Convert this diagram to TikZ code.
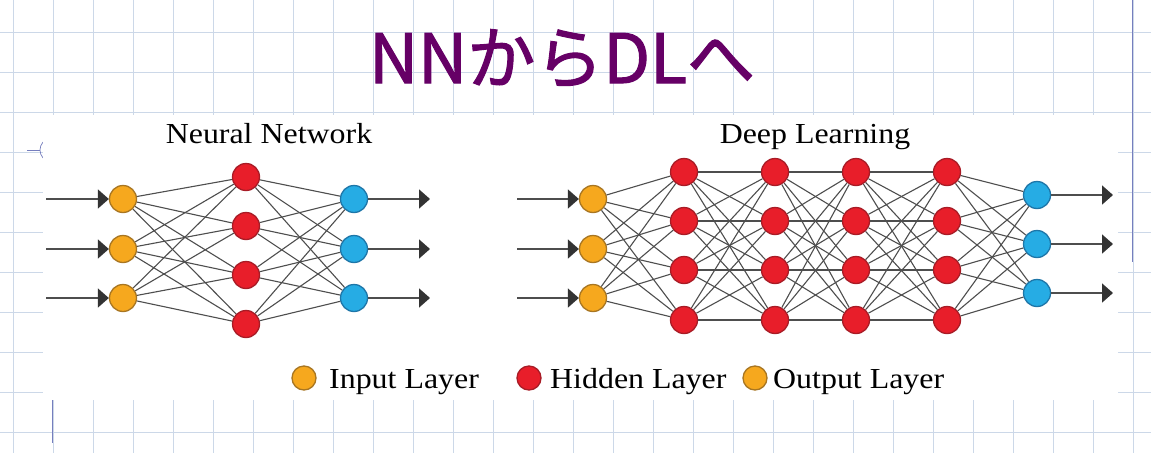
\documentclass[tikz,border=0pt]{standalone}
\usepackage{fontspec}
\setmainfont{Liberation Serif}
\newfontfamily\jpfont[FakeBold=1.6]{Noto Sans CJK JP}
\usetikzlibrary{arrows.meta}

\definecolor{gridblue}{RGB}{204,216,232}
\definecolor{markblue}{RGB}{118,126,190}
\definecolor{titlepurple}{RGB}{102,0,102}
\definecolor{inorange}{RGB}{246,168,30}
\definecolor{inorangeedge}{RGB}{168,118,34}
\definecolor{hidred}{RGB}{232,30,42}
\definecolor{hidrededge}{RGB}{168,28,38}
\definecolor{outblue}{RGB}{38,172,228}
\definecolor{outblueedge}{RGB}{30,118,168}
\definecolor{linkgray}{RGB}{78,78,78}

\tikzset{
  neuron/.style={circle, inner sep=0pt, minimum size=27pt, line width=1.3pt},
  inunit/.style={neuron, fill=inorange, draw=inorangeedge},
  hidunit/.style={neuron, fill=hidred, draw=hidrededge},
  outunit/.style={neuron, fill=outblue, draw=outblueedge},
  link/.style={draw=linkgray, line width=1.1pt},
  feed/.style={draw=linkgray, line width=1.7pt,
    -{Triangle[length=11pt,width=19pt,color=black!80]}},
  headtext/.style={font=\fontsize{29}{34}\selectfont, inner sep=0pt},
}

\begin{document}
\begin{tikzpicture}[x=1pt, y=-1pt]
  \useasboundingbox (0,0) rectangle (1151,453);
  \fill[white] (0,0) rectangle (1151,453);

  % squared paper
  \foreach \gx in {13,53,...,1133}
    \draw[gridblue, line width=0.9pt] (\gx,0) -- (\gx,453);
  \foreach \gy in {32,72,...,432}
    \draw[gridblue, line width=0.9pt] (0,\gy) -- (1151,\gy);
  \draw[markblue, line width=1pt] (1132,0) -- (1132,262);
  \draw[markblue, line width=1pt] (52,400) -- (52,443);
  \draw[markblue, line width=0.7pt] (27,150) -- (40,150);
  \draw[markblue, line width=0.7pt] (43,142) .. controls (39,147) and (39,153) .. (43,158);

  % pasted figure
  \fill[white] (43,115) rectangle (1118,400);

  \node[text=titlepurple, font=\jpfont\fontsize{68}{80}\selectfont, anchor=base] (title) at (562,83) {NNからDLへ};

  % neural network
  \node[headtext, anchor=base] (nntitle) at (269,143) {\scalebox{1.1}[1]{Neural Network}};
  \foreach \i/\y in {1/199,2/249,3/298}
    \node[inunit] (ni\i) at (123,\y) {};
  \foreach \i/\y in {1/177,2/226,3/275,4/324}
    \node[hidunit] (nh\i) at (246,\y) {};
  \foreach \i/\y in {1/199,2/249,3/298}
    \node[outunit] (no\i) at (354,\y) {};
  \foreach \a in {1,2,3}
    \foreach \b in {1,...,4} {
      \draw[link] (ni\a) -- (nh\b);
      \draw[link] (nh\b) -- (no\a);
    }
  \foreach \i/\y in {1/199,2/249,3/298} {
    \coordinate (nin\i) at (46,\y);
    \coordinate (nout\i) at (430,\y);
    \draw[feed] (nin\i) -- (ni\i);
    \draw[feed] (no\i) -- (nout\i);
  }

  % deep learning
  \node[headtext, anchor=base] (dltitle) at (815,143) {\scalebox{1.1}[1]{Deep Learning}};
  \foreach \i/\y in {1/199,2/249,3/298}
    \node[inunit] (di\i) at (593,\y) {};
  \foreach \c/\x in {1/684,2/775,3/856,4/947}
    \foreach \i/\y in {1/172,2/221,3/270,4/320}
      \node[hidunit] (dh\c\i) at (\x,\y) {};
  \foreach \i/\y in {1/195,2/244,3/293}
    \node[outunit] (do\i) at (1037,\y) {};
  \foreach \a in {1,2,3}
    \foreach \b in {1,...,4} {
      \draw[link] (di\a) -- (dh1\b);
      \draw[link] (dh4\b) -- (do\a);
    }
  \foreach \c/\n in {1/2,2/3,3/4}
    \foreach \a in {1,...,4}
      \foreach \b in {1,...,4}
        \draw[link] (dh\c\a) -- (dh\n\b);
  \foreach \i/\y in {1/199,2/249,3/298} {
    \coordinate (din\i) at (517,\y);
    \draw[feed] (din\i) -- (di\i);
  }
  \foreach \i/\y in {1/195,2/244,3/293} {
    \coordinate (dout\i) at (1113,\y);
    \draw[feed] (do\i) -- (dout\i);
  }

  % legend
  \node[inunit, minimum size=24pt] (lin) at (304,378) {};
  \node[hidunit, minimum size=24pt] (lhid) at (529,378) {};
  \node[inunit, minimum size=24pt] (lout) at (755,378) {};
  \node[headtext, anchor=base west] (lintext) at (329,388) {\scalebox{1.1}[1]{Input Layer}};
  \node[headtext, anchor=base west] (lhidtext) at (550,388) {\scalebox{1.1}[1]{Hidden Layer}};
  \node[headtext, anchor=base west] (louttext) at (773,388) {\scalebox{1.1}[1]{Output Layer}};
\end{tikzpicture}
\end{document}
